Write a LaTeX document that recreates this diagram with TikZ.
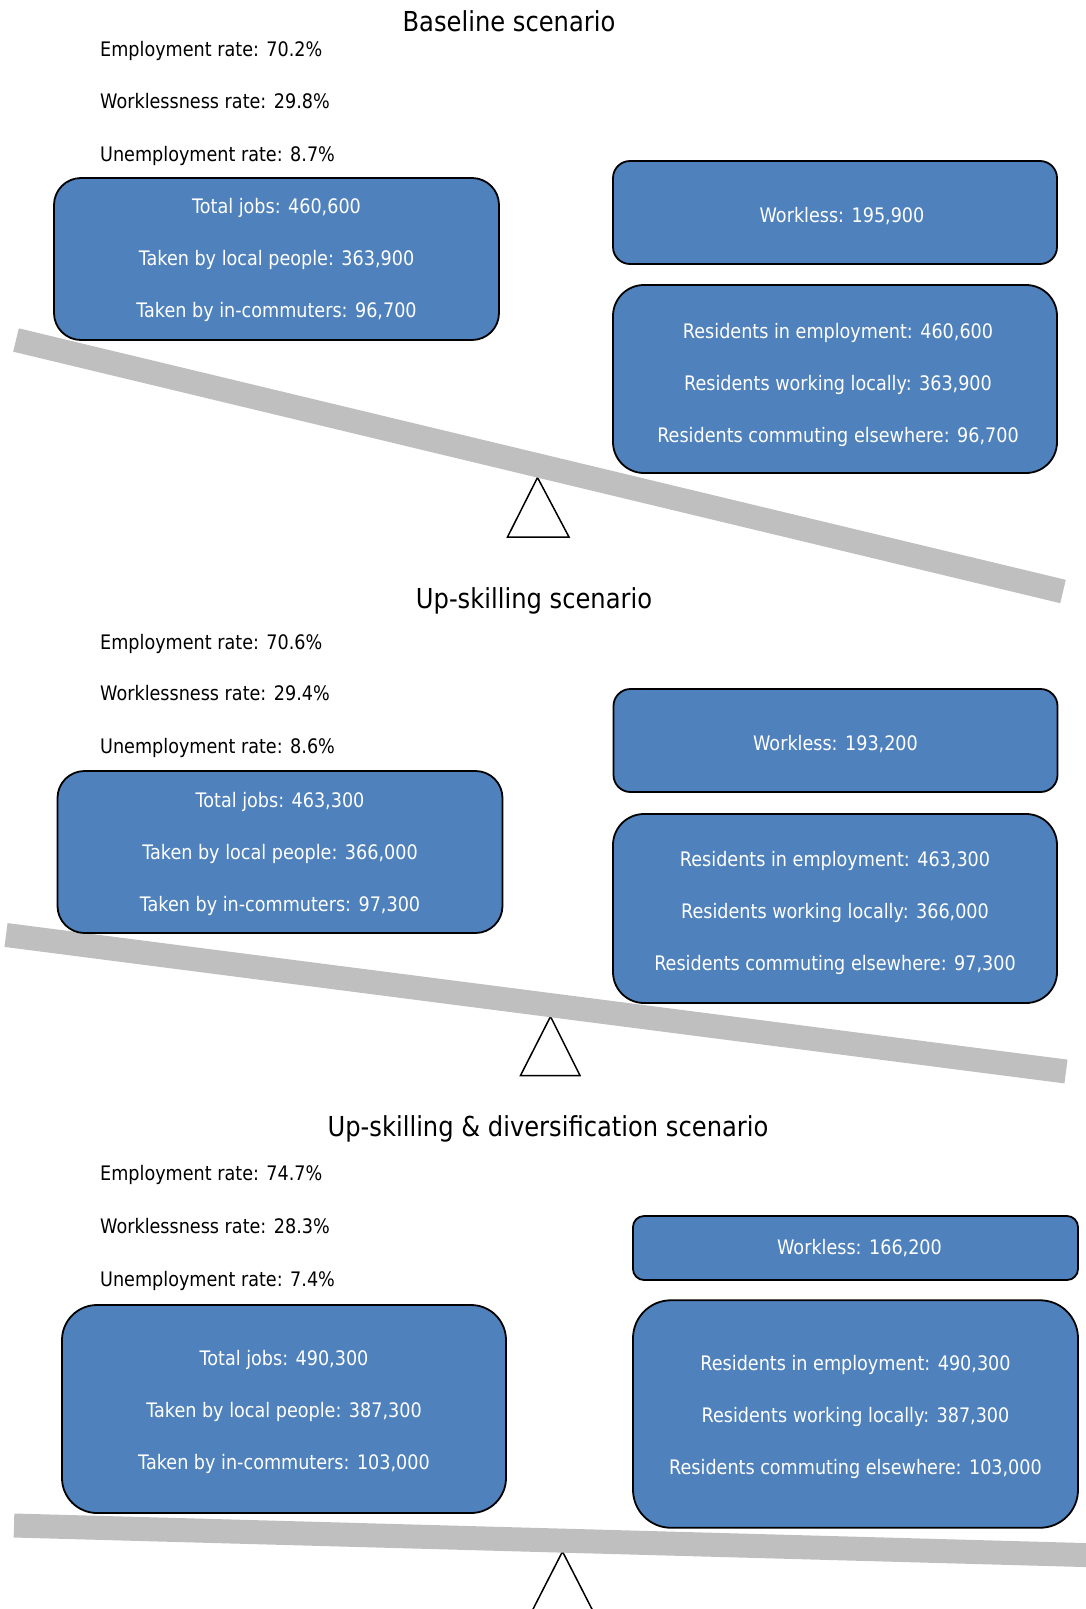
\documentclass[tikz,border=0pt]{standalone}
\usepackage{fontspec}
\setmainfont{DejaVu Sans}[FakeStretch=0.88]
\definecolor{boxblue}{HTML}{4F81BD}
\definecolor{bargray}{HTML}{BFBFBF}
\newcommand{\strutup}[1]{\rule{0pt}{#1pt}}
\begin{document}
\begin{tikzpicture}[x=1pt,y=-1pt,
  bluebox/.style={draw=black, line width=1.8pt, fill=boxblue, text=white, align=center, inner sep=0pt, font=\fontsize{20}{52}\selectfont},
  rate/.style={anchor=base west, inner sep=0pt, font=\fontsize{20}{24}\selectfont},
  ttl/.style={anchor=base, inner sep=0pt, font=\fontsize{27.5}{32}\selectfont},
  beam/.style={draw=bargray, line width=24pt, line cap=butt},
  pivot/.style={draw=black, line width=1.5pt, fill=white, line join=miter}]
\useasboundingbox (0,0) rectangle (1086,1609);
\clip (0,0) rectangle (1086,1609);
% ---------- pivots ----------
\coordinate (a1) at (537.5,477.5); \coordinate (b1) at (507.5,537); \coordinate (c1) at (569,537);
\coordinate (a2) at (550.5,1016.5); \coordinate (b2) at (520.5,1075.5); \coordinate (c2) at (580,1075.5);
\coordinate (a3) at (562.5,1551.5); \coordinate (b3) at (530,1615); \coordinate (c3) at (595,1615);
\draw[pivot] (a1) -- (b1) -- (c1) -- cycle;
\draw[pivot] (a2) -- (b2) -- (c2) -- cycle;
\draw[pivot] (a3) -- (b3) -- (c3) -- cycle;
% ---------- beams ----------
\coordinate (l1) at (16,340);   \coordinate (r1) at (1063,591.5);
\coordinate (l2) at (6,935);    \coordinate (r2) at (1066,1071.5);
\coordinate (l3) at (14,1525.5);\coordinate (r3) at (1120,1556);
\draw[beam] (l1) -- (r1);
\draw[beam] (l2) -- (r2);
\draw[beam] (l3) -- (r3);
% ---------- scenario 1 ----------
\node[ttl] (t1) at (509,31.5) {Baseline scenario};
\node[rate] (e1) at (100,56.5) {Employment rate: 70.2\%};
\node[rate] (w1) at (100,108.5) {Worklessness rate: 29.8\%};
\node[rate] (u1) at (100,161.5) {Unemployment rate: 8.7\%};
\node[bluebox, minimum width=445pt, minimum height=162pt, rounded corners=27pt] (j1) at (276.5,259)
  {\strutup{17}Total jobs: 460,600\\Taken by local people: 363,900\\Taken by in-commuters: 96,700};
\node[bluebox, minimum width=444pt, minimum height=103pt, rounded corners=17pt] (k1) at (835,212.5)
  {\strutup{23}\hspace*{14pt}Workless: 195,900};
\node[bluebox, minimum width=444pt, minimum height=188pt, rounded corners=31pt] (p1) at (835,379)
  {\strutup{27}\hspace*{6pt}Residents in employment: 460,600\\\hspace*{6pt}Residents working locally: 363,900\\\hspace*{6pt}Residents commuting elsewhere: 96,700};
% ---------- scenario 2 ----------
\node[ttl] (t2) at (534,608) {Up-skilling scenario};
\node[rate] (e2) at (100,649) {Employment rate: 70.6\%};
\node[rate] (w2) at (100,700.5) {Worklessness rate: 29.4\%};
\node[rate] (u2) at (100,753.5) {Unemployment rate: 8.6\%};
\node[bluebox, minimum width=445pt, minimum height=162pt, rounded corners=27pt] (j2) at (280,852)
  {\strutup{20}Total jobs: 463,300\\Taken by local people: 366,000\\Taken by in-commuters: 97,300};
\node[bluebox, minimum width=444pt, minimum height=103pt, rounded corners=17pt] (k2) at (835.5,740.5)
  {\strutup{22}Workless: 193,200};
\node[bluebox, minimum width=444pt, minimum height=189pt, rounded corners=31pt] (p2) at (835,908.5)
  {\strutup{24}Residents in employment: 463,300\\Residents working locally: 366,000\\Residents commuting elsewhere: 97,300};
% ---------- scenario 3 ----------
\node[ttl] (t3) at (548,1136) {Up-skilling \& diversification scenario};
\node[rate] (e3) at (100,1180.5) {Employment rate: 74.7\%};
\node[rate] (w3) at (100,1233.5) {Worklessness rate: 28.3\%};
\node[rate] (u3) at (100,1286.5) {Unemployment rate: 7.4\%};
\node[bluebox, minimum width=444pt, minimum height=208pt, rounded corners=35pt] (j3) at (284,1409)
  {\strutup{22}Total jobs: 490,300\\Taken by local people: 387,300\\Taken by in-commuters: 103,000};
\node[bluebox, minimum width=445pt, minimum height=64pt, rounded corners=11pt] (k3) at (855.5,1248)
  {\hspace*{8pt}Workless: 166,200};
\node[bluebox, minimum width=445pt, minimum height=227.5pt, rounded corners=38pt] (p3) at (855.5,1414)
  {\strutup{21}Residents in employment: 490,300\\Residents working locally: 387,300\\Residents commuting elsewhere: 103,000};
\end{tikzpicture}
\end{document}
